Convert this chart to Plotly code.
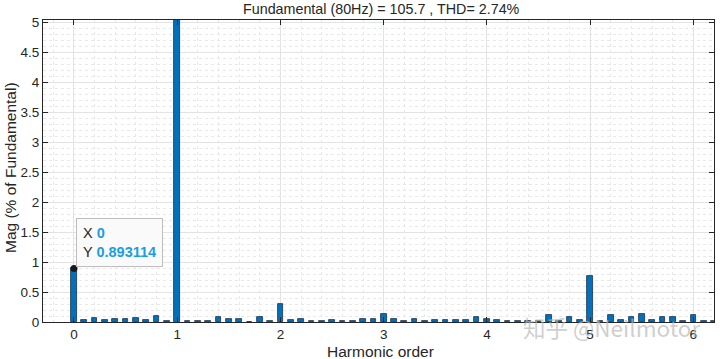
import plotly.graph_objects as go

harmonic_order = [round(i * 0.1, 1) for i in range(0, 63)]
magnitude = [
    0.893114, 0.04, 0.06, 0.04, 0.055, 0.045, 0.065, 0.03, 0.095, 0.02,
    100.0, 0.015, 0.01, 0.02, 0.08, 0.045, 0.055, 0.005, 0.09, 0.015,
    0.295, 0.04, 0.05, 0.02, 0.02, 0.04, 0.015, 0.02, 0.055, 0.055,
    0.135, 0.05, 0.02, 0.055, 0.02, 0.035, 0.03, 0.035, 0.04, 0.088,
    0.045, 0.035, 0.02, 0.01, 0.01, 0.02, 0.11, 0.01, 0.08, 0.04,
    0.76, 0.01, 0.12, 0.04, 0.085, 0.13, 0.03, 0.08, 0.09, 0.01,
    0.115, 0.01, 0.02,
]
x_ticks = [0, 1, 2, 3, 4, 5, 6]
y_ticks = [0, 0.5, 1, 1.5, 2, 2.5, 3, 3.5, 4, 4.5, 5]
y_tick_labels = ["0", "0.5", "1", "1.5", "2", "2.5", "3", "3.5", "4", "4.5", "5"]
title_text = "Fundamental (80Hz) = 105.7 , THD= 2.74%"
x_title = "Harmonic order"
y_title = "Mag (% of Fundamental)"
tip_x, tip_y = 0, 0.893114

FONT = "Liberation Sans, Arial"
font_color = "#262626"

fig = go.Figure()
fig.add_trace(go.Bar(
    x=harmonic_order, y=magnitude, width=0.055,
    marker=dict(color="#0072BD", line=dict(color="#1d2f45", width=0.8)),
))
fig.add_trace(go.Scatter(
    x=[tip_x], y=[tip_y], mode="markers",
    marker=dict(color="#1a1a1a", size=7),
))

axis_common = dict(
    showline=True, linecolor="#262626", linewidth=1, mirror="ticks",
    ticks="inside", ticklen=5, tickcolor="#262626",
    showgrid=True, gridcolor="#e3e3e3", gridwidth=1,
    zeroline=False, automargin=False,
    tickfont=dict(family=FONT, size=13.5, color=font_color),
)
fig.update_xaxes(
    range=[-0.3, 6.2], tickvals=x_ticks,
    minor=dict(dtick=0.2, tick0=0, showgrid=True, gridcolor="#e8e8e8", griddash="dot", ticks=""),
    **axis_common,
)
fig.update_yaxes(
    range=[0, 5.04], tickvals=y_ticks, ticktext=y_tick_labels,
    minor=dict(dtick=0.1, tick0=0, showgrid=True, gridcolor="#e8e8e8", griddash="dot", ticks=""),
    **axis_common,
)

# titles
fig.add_annotation(
    x=0.5, y=1, xref="paper", yref="paper", showarrow=False,
    xanchor="center", yanchor="middle", yshift=11, xshift=3,
    text=title_text, font=dict(family=FONT, size=14.3, color=font_color),
)
fig.add_annotation(
    x=0.5, y=0, xref="paper", yref="paper", showarrow=False,
    xanchor="center", yanchor="middle", yshift=-29, xshift=2,
    text=x_title, font=dict(family=FONT, size=15.5, color=font_color),
)
fig.add_annotation(
    x=0, y=0.5, xref="paper", yref="paper", showarrow=False,
    xanchor="center", yanchor="middle", xshift=-33, yshift=3, textangle=-90,
    text=y_title, font=dict(family=FONT, size=15.5, color=font_color),
)

# data tip
fig.add_annotation(
    x=tip_x, y=tip_y, xref="x", yref="y", showarrow=False,
    xanchor="left", yanchor="bottom", xshift=2, yshift=1,
    align="left",
    text="X <b><span style='color:#1a9ee0'>0</span></b><br>Y <b><span style='color:#1a9ee0'>0.893114</span></b>",
    font=dict(family=FONT, size=14.5, color="#262626"),
    bgcolor="rgba(250,250,250,0.95)", bordercolor="#bdbdbd", borderwidth=1, borderpad=6,
)
# watermark
fig.add_annotation(
    x=0.982, y=0.0, xref="paper", yref="paper", showarrow=False,
    xanchor="right", yanchor="middle", yshift=-5,
    text="知乎 @Neilmotor",
    font=dict(family="Noto Sans CJK SC", size=22.5, color="rgba(185,185,185,0.7)"),
)

fig.update_layout(
    width=720, height=359,
    margin=dict(l=43, r=6, t=20, b=37, autoexpand=False),
    paper_bgcolor="white", plot_bgcolor="white",
    showlegend=False, bargap=0,
)
fig.write_html(
    "out.html",
    config={"displayModeBar": False},
    post_script="document.body.style.margin='0px';document.body.style.padding='0px';",
)
